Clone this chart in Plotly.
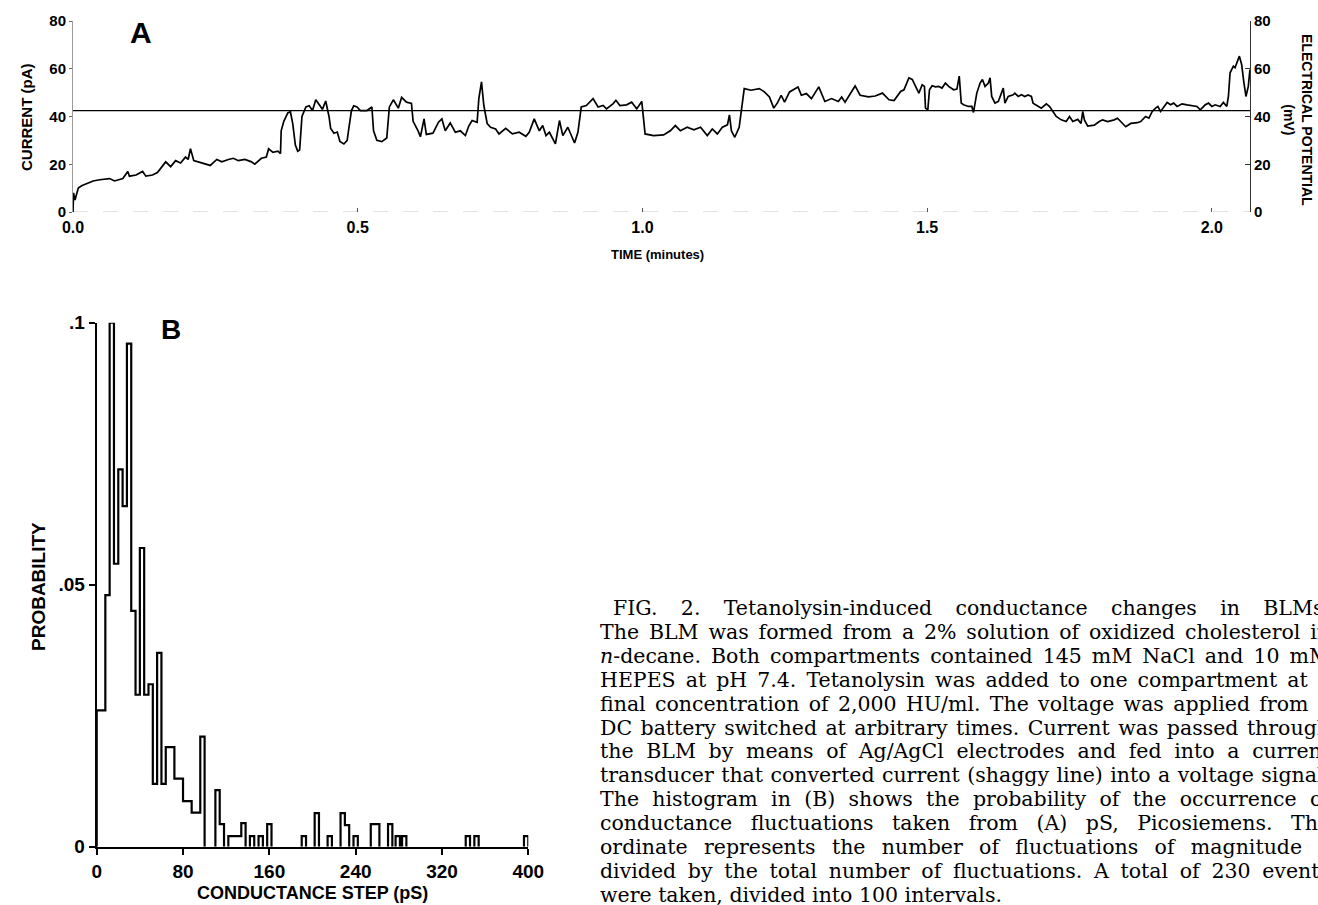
import json
import plotly.graph_objects as go

W, H = 1318, 905

# ---------------- Panel A: current trace ----------------
time_min = [0.0, 0.001, 0.0035, 0.0093, 0.0151, 0.0238, 0.0353, 0.0469, 0.0643, 0.0730,
            0.0875, 0.0962, 0.0991, 0.1107, 0.1222, 0.1280, 0.1396, 0.1483, 0.1570, 0.1628,
            0.1715, 0.1802, 0.1889, 0.1976, 0.2022, 0.2063, 0.2121, 0.2265, 0.2410, 0.2526,
            0.2613, 0.2729, 0.2816, 0.2903, 0.3019, 0.3134, 0.3192, 0.3308, 0.3395, 0.3436,
            0.3511, 0.3598, 0.3644, 0.3656, 0.3702, 0.3772, 0.3818, 0.3859, 0.3905, 0.3946,
            0.3980, 0.4021, 0.4090, 0.4148, 0.4206, 0.4264, 0.4322, 0.4380, 0.4438, 0.4496,
            0.4525, 0.4583, 0.4641, 0.4687, 0.4757, 0.4815, 0.4844, 0.4890, 0.4930, 0.4988,
            0.5046, 0.5162, 0.5249, 0.5278, 0.5336, 0.5423, 0.5510, 0.5556, 0.5626, 0.5713,
            0.5771, 0.5857, 0.5944, 0.5973, 0.6060, 0.6101, 0.6165, 0.6205, 0.6321, 0.6419,
            0.6478, 0.6537, 0.6625, 0.6714, 0.6802, 0.6891, 0.6950, 0.7009, 0.7097, 0.7127,
            0.7174, 0.7215, 0.7274, 0.7333, 0.7422, 0.7481, 0.7599, 0.7717, 0.7835, 0.7953,
            0.8012, 0.8100, 0.8189, 0.8248, 0.8307, 0.8366, 0.8472, 0.8543, 0.8602, 0.8690,
            0.8808, 0.8867, 0.8926, 0.9015, 0.9133, 0.9221, 0.9310, 0.9369, 0.9487, 0.9534,
            0.9605, 0.9723, 0.9811, 0.9900, 0.9988, 1.0047, 1.0195, 1.0372, 1.0490, 1.0578,
            1.0667, 1.0785, 1.0903, 1.1021, 1.1139, 1.1227, 1.1316, 1.1404, 1.1493, 1.1528,
            1.1563, 1.1622, 1.1699, 1.1746, 1.1788, 1.1906, 1.2053, 1.2142, 1.2230, 1.2307,
            1.2378, 1.2437, 1.2496, 1.2584, 1.2732, 1.2791, 1.2879, 1.2968, 1.3097, 1.3204,
            1.3322, 1.3440, 1.3499, 1.3558, 1.3646, 1.3735, 1.3823, 1.3971, 1.4088, 1.4215,
            1.4331, 1.4419, 1.4535, 1.4593, 1.4680, 1.4738, 1.4797, 1.4855, 1.4913, 1.4953,
            1.4971, 1.5012, 1.5041, 1.5087, 1.5145, 1.5203, 1.5262, 1.5320, 1.5378, 1.5465,
            1.5523, 1.5564, 1.5599, 1.5640, 1.5727, 1.5785, 1.5814, 1.5872, 1.5930, 1.5971,
            1.6017, 1.6076, 1.6105, 1.6134, 1.6192, 1.6250, 1.6337, 1.6366, 1.6424, 1.6512,
            1.6541, 1.6599, 1.6657, 1.6715, 1.6773, 1.6831, 1.6860, 1.6948, 1.7006, 1.7093,
            1.7151, 1.7209, 1.7267, 1.7355, 1.7442, 1.7500, 1.7558, 1.7645, 1.7703, 1.7733,
            1.7762, 1.7820, 1.7936, 1.8023, 1.8081, 1.8169, 1.8285, 1.8343, 1.8430, 1.8488,
            1.8576, 1.8692, 1.8750, 1.8837, 1.8895, 1.8953, 1.9012, 1.9052, 1.9099, 1.9157,
            1.9215, 1.9273, 1.9331, 1.9390, 1.9477, 1.9564, 1.9651, 1.9738, 1.9797, 1.9884,
            1.9942, 2.0000, 2.0058, 2.0145, 2.0203, 2.0262, 2.0291, 2.0320, 2.0378, 2.0407,
            2.0483, 2.0523, 2.0564, 2.0599, 2.0640, 2.0669]

current_pA = [0.0, 8.0, 5.0, 10.0, 11.0, 12.0, 13.0, 13.5, 14.0, 13.0,
              14.0, 17.0, 15.0, 15.5, 17.0, 15.0, 15.5, 16.5, 19.0, 21.0,
              19.0, 21.5, 20.5, 23.0, 22.0, 26.5, 21.5, 20.5, 19.5, 22.0,
              21.0, 22.0, 22.5, 21.5, 22.0, 21.0, 20.0, 22.5, 23.0, 26.5,
              25.0, 25.5, 24.5, 34.0, 38.0, 41.5, 42.0, 37.0, 28.0, 25.5,
              26.0, 40.0, 44.0, 44.5, 42.5, 47.0, 45.0, 43.0, 46.5, 40.0,
              35.0, 33.0, 33.5, 29.5, 28.5, 30.0, 35.0, 42.5, 44.5, 44.0,
              42.5, 42.5, 44.0, 34.0, 30.0, 29.5, 31.0, 44.0, 47.0, 43.5,
              48.0, 46.0, 45.5, 38.0, 34.0, 31.5, 39.0, 32.5, 33.0, 37.6,
              39.0, 34.0, 37.3, 33.4, 34.0, 32.0, 36.0, 38.3, 37.6, 47.5,
              54.5, 44.6, 37.0, 35.5, 34.8, 32.7, 35.0, 32.7, 33.4, 31.7,
              33.4, 39.0, 34.0, 36.2, 32.0, 33.4, 28.5, 38.3, 32.0, 35.5,
              28.9, 33.4, 44.0, 44.6, 47.5, 44.0, 44.6, 43.2, 45.4, 46.8,
              44.6, 44.9, 46.0, 43.2, 46.3, 32.7, 32.0, 32.3, 34.0, 36.2,
              34.0, 35.5, 34.4, 35.5, 32.0, 34.8, 32.7, 35.5, 36.5, 40.7,
              34.0, 31.3, 35.5, 43.2, 51.7, 51.0, 51.7, 50.3, 48.2, 43.5,
              46.0, 48.9, 46.0, 50.3, 52.4, 48.9, 49.6, 47.5, 52.4, 46.3,
              47.5, 46.3, 48.2, 46.0, 49.6, 52.8, 48.9, 48.2, 48.6, 49.8,
              47.0, 46.7, 50.5, 51.2, 56.2, 55.5, 52.6, 49.8, 53.3, 52.6,
              43.5, 42.8, 51.2, 52.9, 52.4, 52.6, 51.9, 54.0, 52.6, 51.2,
              51.5, 56.9, 45.6, 44.9, 44.2, 44.2, 41.7, 49.8, 54.0, 55.5,
              52.6, 54.0, 56.2, 48.4, 45.6, 46.3, 51.9, 45.6, 48.4, 49.1,
              49.8, 48.4, 49.1, 48.4, 49.0, 48.4, 45.6, 44.2, 43.5, 45.3,
              44.2, 42.1, 40.0, 38.6, 37.9, 40.0, 37.9, 38.8, 37.1, 42.1,
              38.6, 36.0, 36.4, 37.9, 38.6, 37.9, 38.6, 39.3, 37.1, 35.7,
              37.1, 37.4, 37.9, 40.0, 39.3, 42.1, 43.5, 44.2, 42.1, 44.2,
              45.9, 44.9, 45.6, 44.2, 45.3, 44.9, 44.5, 44.2, 42.8, 44.9,
              45.6, 44.2, 44.9, 44.2, 45.9, 44.2, 48.4, 58.3, 61.1, 60.4,
              65.3, 61.8, 54.0, 48.4, 52.6, 59.7]

potential_mV = 42.5
time_end_min = 2.067
time_ticks = [0.0, 0.5, 1.0, 1.5, 2.0]
current_ticks = [0, 20, 40, 60, 80]
potential_ticks = [0, 20, 40, 60, 80]

# ---------------- Panel B: conductance histogram ----------------
bin_width_pS = 4
bin_left_pS = [0, 4, 8, 12, 16, 20, 24, 28, 32, 36, 40, 44, 48, 52, 56, 60, 64, 68, 72, 76,
               80, 84, 88, 92, 96,
               110, 114, 122, 126, 130, 134, 142, 150, 158, 190, 202, 214, 226, 230, 238,
               254, 258, 270, 277, 283, 342, 350, 396]
probability = [0.026, 0.026, 0.048, 0.100, 0.054, 0.072, 0.065, 0.096, 0.045, 0.029,
               0.057, 0.029, 0.031, 0.012, 0.037, 0.012, 0.019, 0.019, 0.013, 0.013,
               0.0087, 0.0087, 0.0065, 0.0065, 0.021,
               0.0108, 0.0043, 0.002, 0.002, 0.002, 0.0045, 0.002, 0.002, 0.0043, 0.002,
               0.0064, 0.002, 0.0064, 0.0041, 0.002,
               0.0043, 0.0043, 0.0043, 0.002, 0.002, 0.002, 0.002, 0.002]
step_ticks = [0, 80, 160, 240, 320, 400]
prob_ticks = [0, 0.05, 0.1]
prob_ticktext = ["0", ".05", ".1"]

caption_lines = [
    "FIG. 2. Tetanolysin-induced conductance changes in BLMs.",
    "The BLM was formed from a 2% solution of oxidized cholesterol in",
    "<i>n</i>-decane. Both compartments contained 145 mM NaCl and 10 mM",
    "HEPES at pH 7.4. Tetanolysin was added to one compartment at a",
    "final concentration of 2,000 HU/ml. The voltage was applied from a",
    "DC battery switched at arbitrary times. Current was passed through",
    "the BLM by means of Ag/AgCl electrodes and fed into a current",
    "transducer that converted current (shaggy line) into a voltage signal.",
    "The histogram in (B) shows the probability of the occurrence of",
    "conductance fluctuations taken from (A) pS, Picosiemens. The",
    "ordinate represents the number of fluctuations of magnitude x",
    "divided by the total number of fluctuations. A total of 230 events",
    "were taken, divided into 100 intervals.",
]

# histogram outline built from the bins
hx, hy = [], []
prev_end = None
for x0, p in zip(bin_left_pS, probability):
    if prev_end is None or abs(x0 - prev_end) > 1e-9:
        if prev_end is not None:
            hx += [prev_end, None]
            hy += [0, None]
        hx.append(x0)
        hy.append(0)
    hx += [x0, x0 + bin_width_pS]
    hy += [p, p]
    prev_end = x0 + bin_width_pS
hx.append(prev_end)
hy.append(0)

fig = go.Figure()
fig.add_trace(go.Scatter(x=time_min, y=current_pA, mode="lines",
                         line=dict(color="black", width=1.7),
                         xaxis="x", yaxis="y", showlegend=False, hoverinfo="skip"))
fig.add_trace(go.Scatter(x=[0, time_end_min], y=[potential_mV, potential_mV], mode="lines",
                         line=dict(color="black", width=1.2),
                         xaxis="x", yaxis="y2", showlegend=False, hoverinfo="skip"))
fig.add_trace(go.Scatter(x=hx, y=hy, mode="lines", line=dict(color="black", width=2.2),
                         xaxis="x2", yaxis="y3", showlegend=False, hoverinfo="skip",
                         cliponaxis=False, connectgaps=False))

# faint, broken time baseline as in the scan
fig.add_shape(type="line", xref="x", yref="y", x0=0, x1=time_end_min, y0=0, y1=0,
              line=dict(color="#c4c4c4", width=1, dash="longdash"), layer="below")

sans = "Liberation Sans"
fig.update_layout(
    width=W, height=H, autosize=False,
    margin=dict(l=0, r=0, t=0, b=0, pad=0, autoexpand=False),
    paper_bgcolor="white", plot_bgcolor="rgba(0,0,0,0)",
    showlegend=False,
    xaxis=dict(domain=[73 / W, 1250 / W], anchor="y", range=[0, time_end_min],
               tickvals=time_ticks, tickformat=".1f", ticks="inside", ticklen=4,
               tickcolor="#555", showline=False, ticklabelstandoff=4,
               showgrid=False, zeroline=False, automargin=False,
               tickfont=dict(family=sans, size=16, color="black", weight="bold")),
    yaxis=dict(domain=[1 - 212 / H, 1 - 21 / H], anchor="x", range=[0, 80],
               tickvals=current_ticks, ticks="outside", ticklen=3, tickcolor="#666",
               showline=True, linecolor="#9a9a9a", linewidth=1, showgrid=False,
               zeroline=False, automargin=False,
               tickfont=dict(family=sans, size=15, color="black", weight="bold")),
    yaxis2=dict(domain=[1 - 212 / H, 1 - 21 / H], anchor="x", overlaying="y",
                side="right", range=[0, 80], tickvals=potential_ticks, ticks="inside",
                ticklen=5, tickcolor="#333", showline=True, linecolor="#333",
                linewidth=1, showgrid=False, zeroline=False, automargin=False,
                tickfont=dict(family=sans, size=15, color="black", weight="bold")),
    xaxis2=dict(domain=[96.7 / W, 528.3 / W], anchor="y3", range=[0, 400],
                tickvals=step_ticks, ticks="outside", ticklen=6, tickwidth=2,
                tickcolor="black", showline=True, linecolor="black", linewidth=2,
                showgrid=False, zeroline=False, automargin=False,
                tickfont=dict(family=sans, size=19, color="black", weight="bold")),
    yaxis3=dict(domain=[1 - 846.7 / H, 1 - 322.7 / H], anchor="x2", range=[0, 0.1],
                tickvals=prob_ticks, ticktext=prob_ticktext, ticks="outside", ticklen=6,
                tickwidth=2, tickcolor="black", showline=True, linecolor="black",
                linewidth=2, showgrid=False, zeroline=False, automargin=False,
                tickfont=dict(family=sans, size=19, color="black", weight="bold")),
)

def ann(text, x, y, size, angle=0, bold=False, family=sans, xanchor="center",
        align="center"):
    fig.add_annotation(text=text, x=x / W, y=1 - y / H, xref="paper", yref="paper",
                       showarrow=False, textangle=angle, xanchor=xanchor, yanchor="middle",
                       align=align,
                       font=dict(family=family, size=size, color="black",
                                 weight="bold" if bold else "normal"))

ann("A", 141, 33, 30, bold=True)
ann("CURRENT (pA)", 26, 118, 15, angle=-90, bold=True)
ann("ELECTRICAL POTENTIAL<br>(mV)", 1298, 120, 14, angle=90, bold=True)
ann("TIME (minutes)", 657, 254, 13, bold=True)
ann("B", 171, 330, 28, bold=True)
ann("PROBABILITY", 38, 587, 19, angle=-90, bold=True)
ann("CONDUCTANCE STEP (pS)", 312, 893, 18, bold=True)

n_before = len(fig.layout.annotations)
caption_right = 1328
justify = {}
for i, line in enumerate(caption_lines):
    x_left = 611 if i == 0 else 598
    ann(line, x_left, 608 + 23.9 * i, 20.5, family="DejaVu Serif", xanchor="left",
        align="left")
    if i < len(caption_lines) - 1:
        justify[n_before + i] = caption_right - x_left

# justify caption lines (word spacing) like the typeset journal column
post = """
document.body.style.margin='0px';
document.body.style.overflow='hidden';
var goals = %s;
var gd = document.getElementById('{plot_id}');
gd.querySelectorAll('g.annotation').forEach(function(g) {
  var idx = g.getAttribute('data-index');
  if (!(idx in goals)) return;
  var t = g.querySelector('text.annotation-text');
  if (!t) return;
  var w = t.getComputedTextLength();
  var n = (t.textContent.match(/ /g) || []).length;
  var goal = goals[idx];
  if (n > 0 && goal > w) t.style.wordSpacing = ((goal - w) / n) + 'px';
});
""" % json.dumps({str(k): v for k, v in justify.items()})

fig.write_html("out.html",
               config={"displayModeBar": False, "responsive": False},
               post_script=post)
